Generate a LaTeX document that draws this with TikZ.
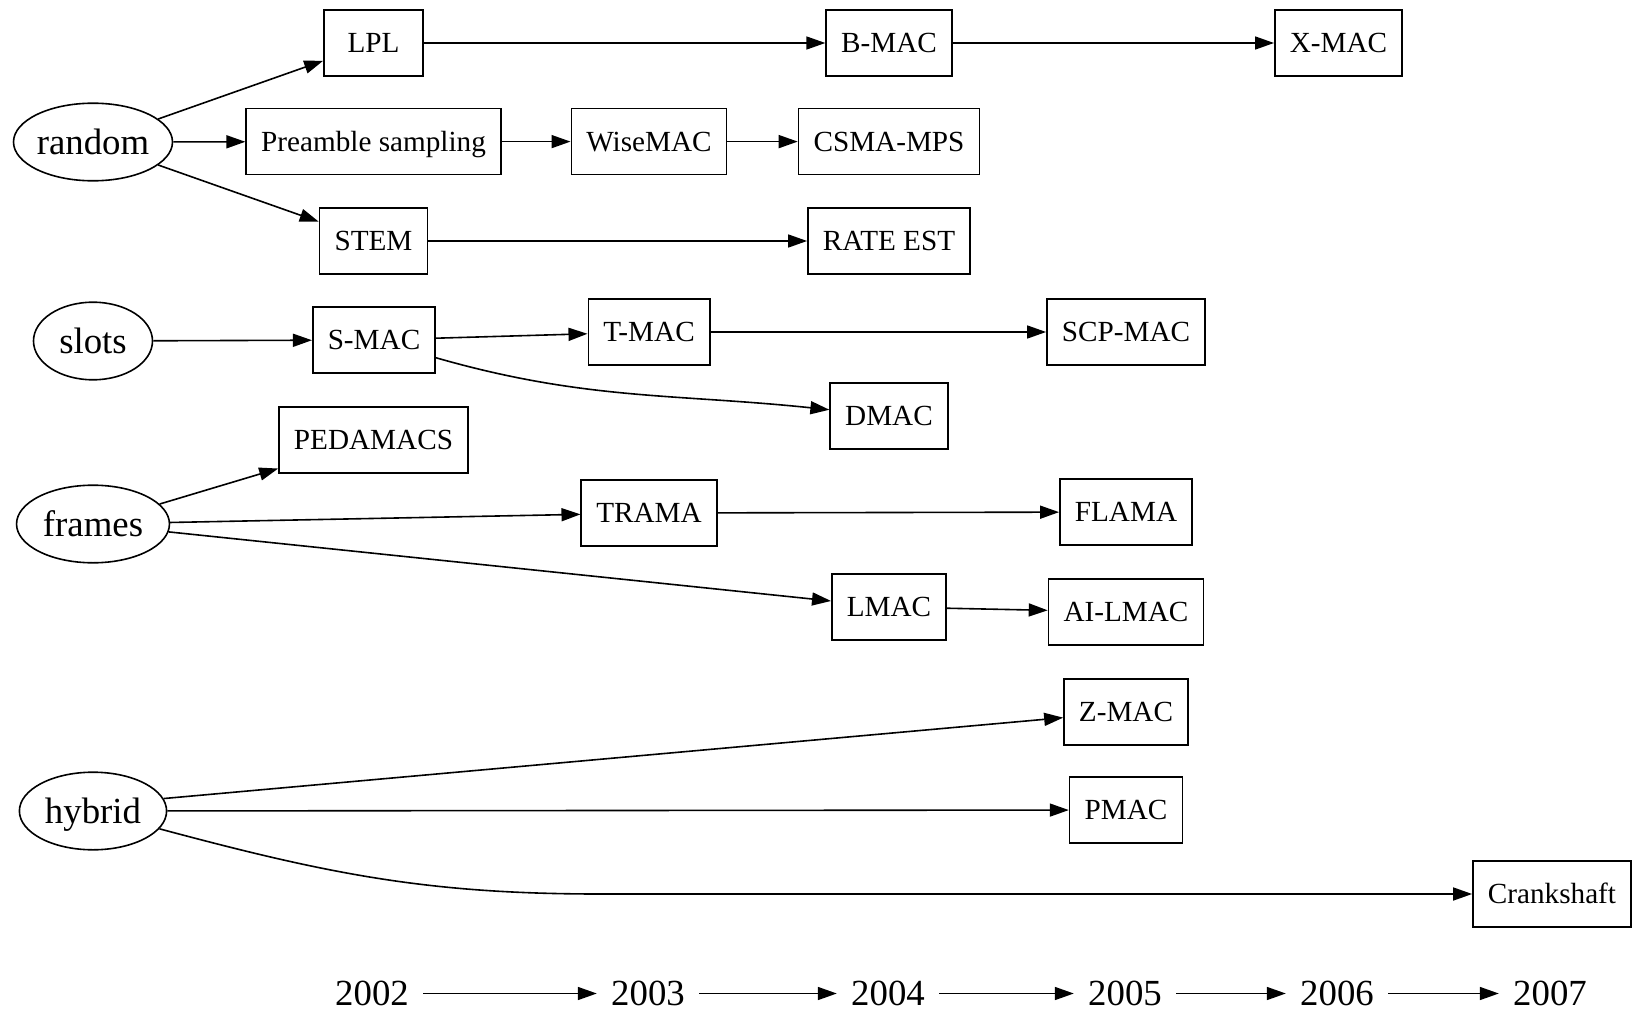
\documentclass[tikz,border=0pt]{standalone}
\usepackage{fontspec}
\setmainfont{Liberation Serif}
\usetikzlibrary{arrows.meta,shapes.geometric}

\begin{document}
\begin{tikzpicture}[x=0.5pt,y=-0.5pt,
    box/.style={draw,line width=0.8pt,font=\fontsize{14.6}{17}\selectfont,%
      minimum width=49.5pt,minimum height=33pt,inner xsep=7.5pt,%
      text height=12pt,text depth=2.3pt},
    cat/.style={draw,ellipse,line width=0.8pt,font=\fontsize{18.4}{22}\selectfont,%
      minimum width=59.5pt,minimum height=38.8pt,inner xsep=2pt,inner ysep=0pt,%
      text height=14pt,text depth=1.3pt},
    year/.style={font=\fontsize{18.4}{22}\selectfont,inner xsep=7pt,%
      text height=12.4pt,text depth=0pt},
    link/.style={line width=0.8pt,-{Triangle[length=9.5pt,width=6.5pt]}}]
      \useasboundingbox (0,0) rectangle (1633,1011) ;
      % categories
      \node[cat,inner xsep=0pt] (random) at (93,142) {random} ;
      \node[cat] (slots) at (93,341) {slots} ;
      \node[cat] (frames) at (93,524) {frames} ;
      \node[cat] (hybrid) at (93,811) {hybrid} ;
      % protocols
      \node[box] (lpl) at (373.5,43) {LPL} ;
      \node[box] (bmac) at (889,43) {B-MAC} ;
      \node[box] (xmac) at (1338.5,43) {X-MAC} ;
      \node[box] (pre) at (373.5,141.6) {Preamble sampling} ;
      \node[box] (wise) at (649,141.6) {WiseMAC} ;
      \node[box] (csma) at (889,141.6) {CSMA-MPS} ;
      \node[box] (stem) at (373.5,241) {STEM} ;
      \node[box] (rate) at (889,241) {RATE EST} ;
      \node[box] (smac) at (374,340) {S-MAC} ;
      \node[box] (tmac) at (649,332) {T-MAC} ;
      \node[box] (scp) at (1126,332) {SCP-MAC} ;
      \node[box] (dmac) at (889,416) {DMAC} ;
      \node[box] (peda) at (373.5,440) {PEDAMACS} ;
      \node[box] (trama) at (649,513) {TRAMA} ;
      \node[box] (flama) at (1126,512) {FLAMA} ;
      \node[box] (lmac) at (889,607) {LMAC} ;
      \node[box] (ailmac) at (1126,612) {AI-LMAC} ;
      \node[box] (zmac) at (1126,712) {Z-MAC} ;
      \node[box] (pmac) at (1126,810) {PMAC} ;
      \node[box] (crank) at (1552,894) {Crankshaft} ;
      % years
      \node[year] (y02) at (372,993.5) {2002} ;
      \node[year] (y03) at (648,993.5) {2003} ;
      \node[year] (y04) at (888,993.5) {2004} ;
      \node[year] (y05) at (1125,993.5) {2005} ;
      \node[year] (y06) at (1337,993.5) {2006} ;
      \node[year] (y07) at (1550,993.5) {2007} ;
      \coordinate (bend) at (600,894) ;
      % links
      \draw[link] (random) -- (lpl) ;
      \draw[link] (random) -- (pre) ;
      \draw[link] (random) -- (stem) ;
      \draw[link] (lpl) -- (bmac) ;
      \draw[link] (bmac) -- (xmac) ;
      \draw[link] (pre) -- (wise) ;
      \draw[link] (wise) -- (csma) ;
      \draw[link] (stem) -- (rate) ;
      \draw[link] (slots) -- (smac) ;
      \draw[link] (smac) -- (tmac) ;
      \draw[link] (tmac) -- (scp) ;
      \draw[link] (smac) to[out=-16,in=174] (dmac) ;
      \draw[link] (frames) -- (peda) ;
      \draw[link] (frames) -- (trama) ;
      \draw[link] (trama) -- (flama) ;
      \draw[link] (frames) -- (lmac) ;
      \draw[link] (lmac) -- (ailmac) ;
      \draw[link] (hybrid.10) -- (zmac) ;
      \draw[link] (hybrid) -- (pmac) ;
      \draw[link] (hybrid) to[out=-15,in=180] (bend) -- (crank) ;
      \draw[link] (y02) -- (y03) ;
      \draw[link] (y03) -- (y04) ;
      \draw[link] (y04) -- (y05) ;
      \draw[link] (y05) -- (y06) ;
      \draw[link] (y06) -- (y07) ;
\end{tikzpicture}
\end{document}
